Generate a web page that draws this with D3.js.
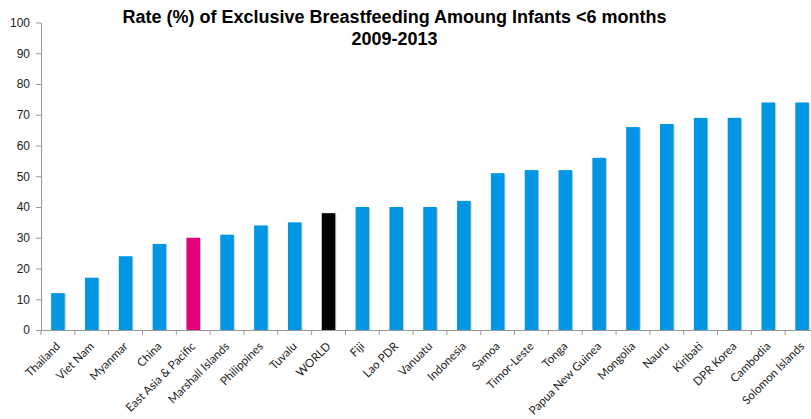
<!DOCTYPE html>
<html lang="en">
<head>
  <meta charset="utf-8">
  <title>Exclusive Breastfeeding</title>
  <style>
    body { margin: 0; background: #fff; }
    .title { font-family: "Liberation Sans", Arial, sans-serif; font-weight: bold; font-size: 18px; fill: #000; }
    .y.axis text { font-family: "Liberation Sans", Arial, sans-serif; font-size: 12px; fill: #222; }
    .x.axis text { font-family: Lato, "Open Sans", sans-serif; font-size: 11.6px; fill: #222; }
    .axis path, .axis line { stroke: #999; }
  </style>
</head>
<body>
  <div id="chart"></div>

  <script src="https://d3js.org/d3.v7.min.js"></script>
  <script type="text/javascript">
    const countries = ['Thailand', 'Viet Nam', 'Myanmar', 'China', 'East Asia & Pacific', 'Marshall Islands',
      'Philippines', 'Tuvalu', 'WORLD', 'Fiji', 'Lao PDR', 'Vanuatu', 'Indonesia', 'Samoa', 'Timor-Leste',
      'Tonga', 'Papua New Guinea', 'Mongolia', 'Nauru', 'Kiribati', 'DPR Korea', 'Cambodia', 'Solomon Islands'];
    const rates = [12, 17, 24, 28, 30, 31, 34, 35, 38, 40, 40, 40, 42, 51, 52, 52, 56, 66, 67, 69, 69, 74, 74];
    const yTicks = [0, 10, 20, 30, 40, 50, 60, 70, 80, 90, 100];
    const titleLines = ['Rate (%) of Exclusive Breastfeeding Amoung Infants <6 months', '2009-2013'];

    const width = 811;
    const height = 419;
    const margin = { top: 22.5, right: -8, bottom: 89, left: 41 };

    const data = countries.map((c, i) => ({ name: c, value: rates[i] }));

    const x = d3.scaleBand()
      .domain(countries)
      .range([margin.left, width - margin.right])
      .paddingInner(0.6)
      .paddingOuter(0.3);
    const y = d3.scaleLinear()
      .domain([0, 100])
      .range([height - margin.bottom, margin.top]);

    const svg = d3.select('#chart').append('svg')
      .attr('width', width)
      .attr('height', height);

    // category boundaries get the tick marks, labels sit at band centres
    const bounds = d3.range(countries.length + 1).map(i => margin.left + i * x.step());

    const gx = svg.append('g')
      .attr('class', 'x axis')
      .attr('transform', `translate(0,${y(0)})`)
      .call(d3.axisBottom(x).tickSize(0).tickSizeOuter(0).tickPadding(0));
    gx.selectAll('.tick text')
      .attr('text-anchor', 'end')
      .attr('dy', 0)
      .attr('transform', 'translate(3,17) rotate(-45)');
    gx.selectAll('line.bound')
      .data(bounds)
      .enter().append('line')
      .attr('class', 'bound')
      .attr('x1', d => d).attr('x2', d => d)
      .attr('y1', 0).attr('y2', 5);

    svg.append('g')
      .attr('class', 'y axis')
      .attr('transform', `translate(${margin.left},0)`)
      .call(d3.axisLeft(y).tickValues(yTicks).tickSize(5).tickSizeOuter(0).tickPadding(6));

    const colour = d => d.name === 'WORLD' ? '#000' : d.name === 'East Asia & Pacific' ? '#e2007a' : '#0096e4';

    // faint shadow behind each bar
    svg.append('g').selectAll('rect')
      .data(data)
      .enter().append('rect')
      .attr('x', d => x(d.name) + 1)
      .attr('y', d => y(d.value) + 1)
      .attr('width', x.bandwidth())
      .attr('height', d => y(0) - y(d.value) - 1)
      .attr('fill', '#ccc');

    svg.append('g').selectAll('rect')
      .data(data)
      .enter().append('rect')
      .attr('x', d => x(d.name))
      .attr('y', d => y(d.value))
      .attr('width', x.bandwidth())
      .attr('height', d => y(0) - y(d.value))
      .attr('fill', colour);

    svg.append('g').selectAll('text')
      .data(titleLines)
      .enter().append('text')
      .attr('class', 'title')
      .attr('x', 394.5)
      .attr('y', (d, i) => 23 + i * 22)
      .attr('text-anchor', 'middle')
      .text(d => d);
  </script>
</body>
</html>
